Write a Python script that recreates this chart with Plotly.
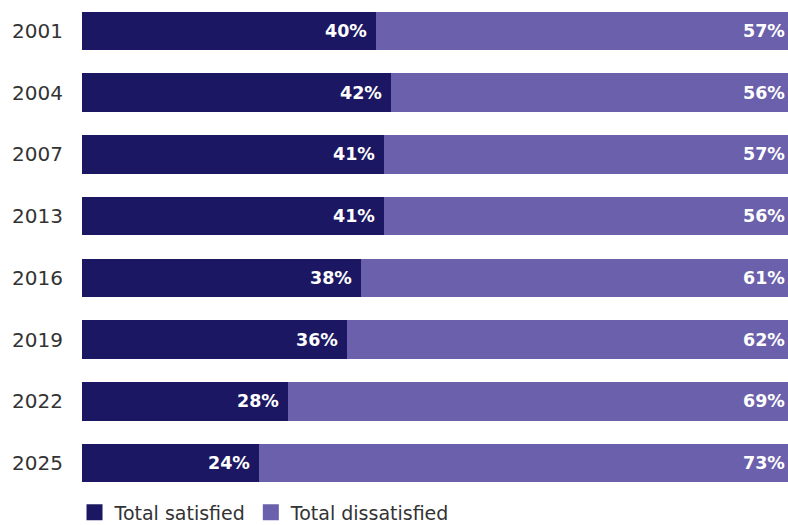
import plotly.graph_objects as go

years = ["2001", "2004", "2007", "2013", "2016", "2019", "2022", "2025"]
satisfied = [40, 42, 41, 41, 38, 36, 28, 24]
dissatisfied = [57, 56, 57, 56, 61, 62, 69, 73]

DARK = "#1c1762"
LIGHT = "#6b60ab"
FONT = "DejaVu Sans, Liberation Sans, Arial, sans-serif"

fig = go.Figure()
fig.add_trace(go.Bar(
    y=years, x=satisfied, orientation="h", name="Total satisfied",
    marker=dict(color=DARK, line=dict(width=0)), showlegend=False,
))
fig.add_trace(go.Bar(
    y=years, x=dissatisfied, orientation="h", name="Total dissatisfied",
    marker=dict(color=LIGHT, line=dict(width=0)), showlegend=False,
))
# legend entries with larger square swatches
for name, col in [("Total satisfied", DARK), ("Total dissatisfied", LIGHT)]:
    fig.add_trace(go.Scatter(
        x=[None], y=[None], mode="markers", name=name,
        marker=dict(symbol="square", size=16, color=col, line=dict(width=0)),
    ))

annotations = []
for i, (s, d) in enumerate(zip(satisfied, dissatisfied)):
    annotations.append(dict(
        x=s, y=i, xref="x", yref="y", text=f"<b>{s}%</b>", showarrow=False,
        xanchor="right", xshift=-7, font=dict(family=FONT, size=17.5, color="white"),
    ))
    annotations.append(dict(
        x=1, y=i, xref="paper", yref="y", text=f"<b>{d}%</b>", showarrow=False,
        xanchor="right", xshift=-1, font=dict(family=FONT, size=17.5, color="white"),
    ))

fig.update_layout(
    barmode="stack",
    bargap=0.378,
    width=788, height=525,
    margin=dict(l=82, r=0, t=0, b=31, autoexpand=False),
    paper_bgcolor="white", plot_bgcolor="white",
    font=dict(family=FONT, size=19, color="#333333"),
    xaxis=dict(range=[0, 96], visible=False, fixedrange=True),
    yaxis=dict(type="category", categoryorder="array", categoryarray=years,
               range=[len(years) - 0.5, -0.5], showgrid=False, showline=False,
               zeroline=False, ticks="", ticklabelstandoff=18,
               tickfont=dict(family=FONT, size=20, color="#333333")),
    legend=dict(orientation="h", x=-0.0106, xanchor="left", y=-0.0374, yanchor="middle",
                font=dict(family=FONT, size=19, color="#333333"), traceorder="normal",
                itemwidth=30, bgcolor="rgba(0,0,0,0)"),
    showlegend=True,
    annotations=annotations,
)

fig.write_html("out.html")
